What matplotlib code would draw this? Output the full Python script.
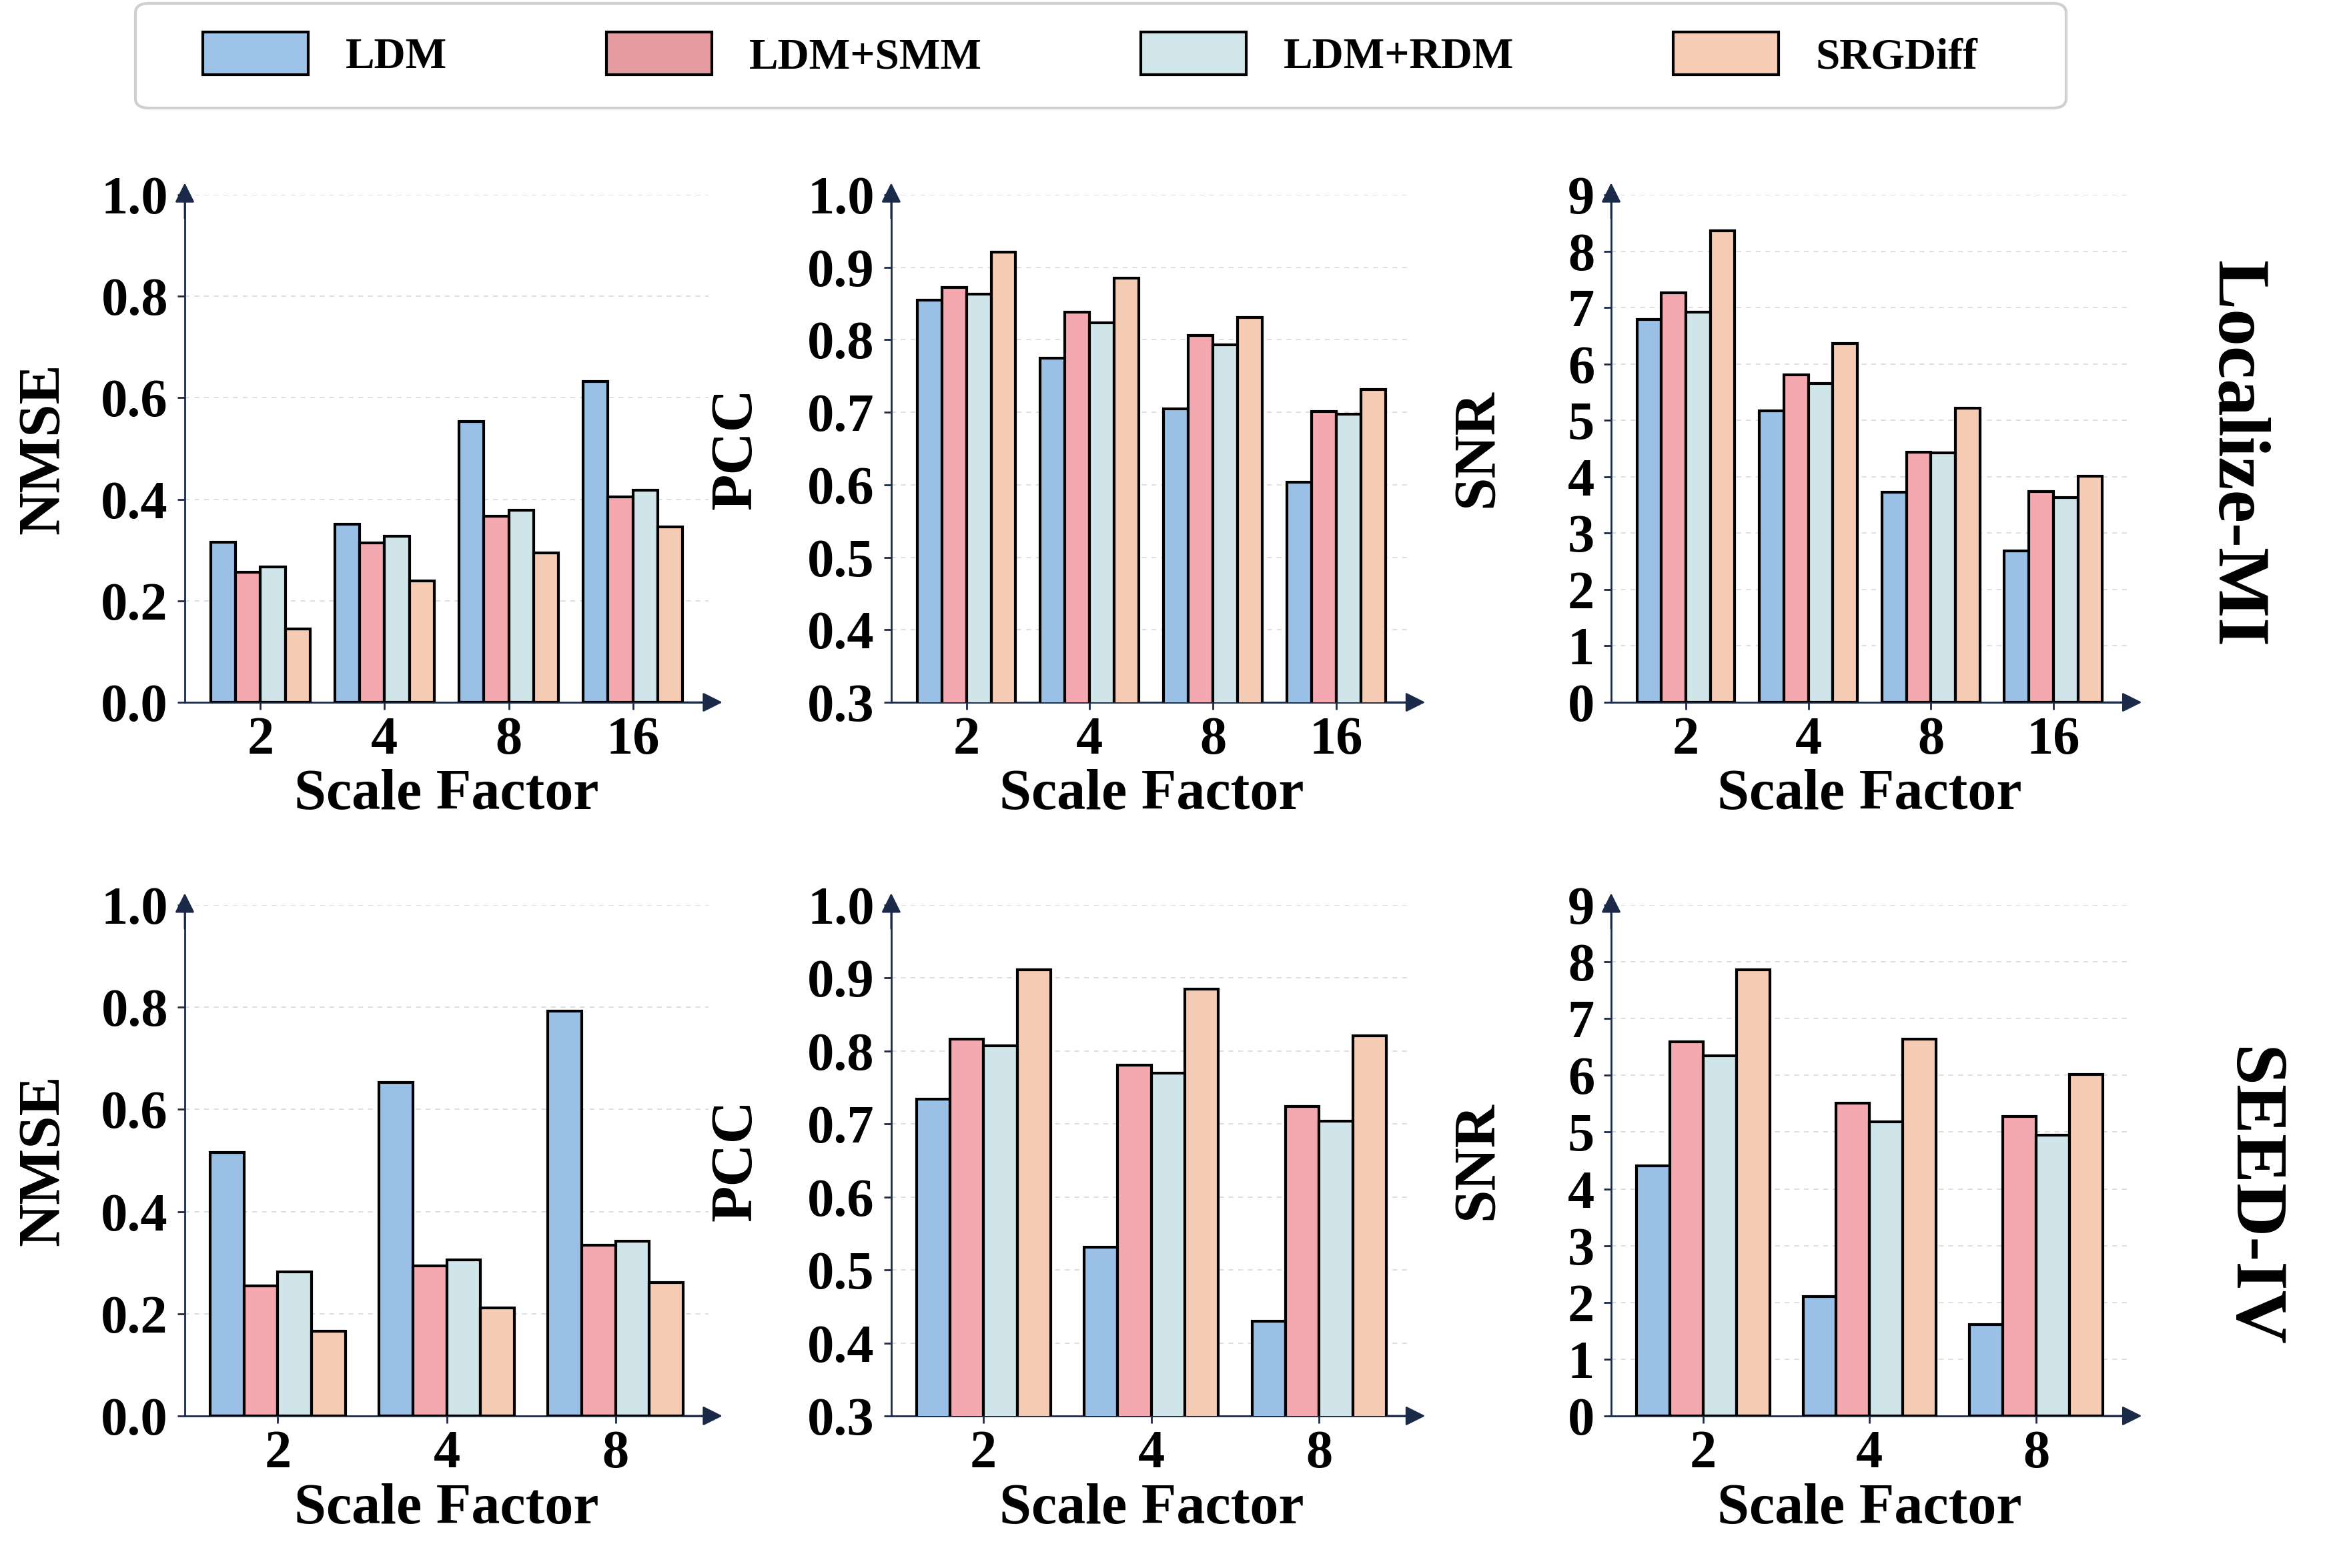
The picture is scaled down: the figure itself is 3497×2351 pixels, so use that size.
import numpy as np
import matplotlib
matplotlib.use('Agg')
import matplotlib.pyplot as plt
from matplotlib.patches import Patch, FancyBboxPatch

plt.rcParams['font.family'] = ['Liberation Serif', 'DejaVu Serif']
plt.rcParams['font.weight'] = 'bold'

methods = ['LDM', 'LDM+SMM', 'LDM+RDM', 'SRGDiff']
colors = ['#9bc0e6', '#f4a8b0', '#d0e5ea', '#f5cbb4']
legend_colors = ['#9dc3e8', '#e49ca0', '#d0e6ea', '#f6ccb5']

scales_loc = ['2', '4', '8', '16']
scales_seed = ['2', '4', '8']

# Localize-MI, one list per method (scale 2, 4, 8, 16)
loc_nmse = [[0.315, 0.351, 0.553, 0.632],
            [0.256, 0.314, 0.367, 0.405],
            [0.267, 0.327, 0.379, 0.418],
            [0.144, 0.239, 0.295, 0.345]]
loc_pcc = [[0.855, 0.775, 0.705, 0.604],
           [0.872, 0.838, 0.806, 0.701],
           [0.863, 0.823, 0.793, 0.697],
           [0.921, 0.885, 0.831, 0.731]]
loc_snr = [[6.79, 5.17, 3.72, 2.68],
           [7.26, 5.81, 4.43, 3.74],
           [6.92, 5.65, 4.42, 3.63],
           [8.36, 6.36, 5.22, 4.01]]

# SEED-IV (scale 2, 4, 8)
seed_nmse = [[0.515, 0.653, 0.792],
             [0.254, 0.294, 0.334],
             [0.282, 0.305, 0.342],
             [0.166, 0.211, 0.261]]
seed_pcc = [[0.734, 0.531, 0.430],
            [0.816, 0.781, 0.724],
            [0.807, 0.770, 0.704],
            [0.911, 0.885, 0.821]]
seed_snr = [[4.41, 2.10, 1.61],
            [6.59, 5.51, 5.27],
            [6.35, 5.18, 4.95],
            [7.86, 6.64, 6.02]]

nmse_ticks = [0.0, 0.2, 0.4, 0.6, 0.8, 1.0]
pcc_ticks = [0.3, 0.4, 0.5, 0.6, 0.7, 0.8, 0.9, 1.0]
snr_ticks = list(range(10))

W, H = 3497, 2351
fig = plt.figure(figsize=(W / 100, H / 100), dpi=100)

lefts = [0.0792, 0.382, 0.6906]
widths = [0.2245, 0.223, 0.2216]
bottoms = [0.5521, 0.097]
heights = [0.3237, 0.3258]
label_x = [-0.218, -0.246, -0.207]

arrow_col = '#1b2a49'


def draw_panel(ax, data, cats, ticks, fmt, ylabel, lx, margin):
    x = np.arange(len(cats))
    w = 0.2
    for i, vals in enumerate(data):
        ax.bar(x + (i - 1.5) * w, vals, w, color=colors[i], edgecolor='black',
               linewidth=3, label=methods[i], zorder=3)
    ax.set_xlim(-margin, len(cats) - 1 + margin)
    ax.set_ylim(ticks[0], ticks[-1])
    ax.set_yticks(ticks)
    ax.set_yticklabels([fmt.format(t) for t in ticks])
    ax.set_xticks(x)
    ax.set_xticklabels(cats)
    ax.grid(axis='y', linestyle=(0, (4, 4)), color='#dcdcdc', linewidth=1.3, zorder=0)
    ax.set_axisbelow(True)
    for s in ['top', 'right']:
        ax.spines[s].set_visible(False)
    for s in ['left', 'bottom']:
        ax.spines[s].set_linewidth(2)
        ax.spines[s].set_color(arrow_col)
    ax.tick_params(axis='both', labelsize=58, length=8, width=2, color=arrow_col, pad=10)
    ax.tick_params(axis='x', pad=7)
    ax.set_ylabel(ylabel, fontsize=64, fontweight='bold')
    ax.yaxis.set_label_coords(lx, 0.5)
    ax.set_xlabel('Scale Factor', fontsize=62, fontweight='bold')
    ax.xaxis.set_label_coords(0.5, -0.132)
    ap = dict(arrowstyle='-|>', color=arrow_col, lw=2, mutation_scale=45)
    ax.annotate('', xy=(1.03, 0), xytext=(0.95, 0), xycoords='axes fraction',
                arrowprops=ap, annotation_clip=False)
    ax.annotate('', xy=(0, 1.027), xytext=(0, 0.95), xycoords='axes fraction',
                arrowprops=ap, annotation_clip=False)


rows = [
    (scales_loc, [loc_nmse, loc_pcc, loc_snr], 0.61),
    (scales_seed, [seed_nmse, seed_pcc, seed_snr], 0.55),
]
tick_sets = [nmse_ticks, pcc_ticks, snr_ticks]
fmts = ['{:.1f}', '{:.1f}', '{:.0f}']
ylabels = ['NMSE', 'PCC', 'SNR']

for r, (cats, datas, margin) in enumerate(rows):
    for c in range(3):
        ax = fig.add_axes([lefts[c], bottoms[r], widths[c], heights[r]])
        draw_panel(ax, datas[c], cats, tick_sets[c], fmts[c], ylabels[c], label_x[c], margin)

fig.text(3352 / W, 1 - 680 / H, 'Localize-MI', rotation=-90, fontsize=80,
         fontweight='bold', ha='center', va='center')
fig.text(3374 / W, 1 - 1794 / H, 'SEED-IV', rotation=-90, fontsize=80,
         fontweight='bold', ha='center', va='center')

# legend frame drawn by hand so the padding matches
frame = FancyBboxPatch((203 / W, 1 - 162 / H), 2894 / W, 157 / H,
                       boxstyle='round,pad=0,rounding_size=0.006',
                       transform=fig.transFigure, facecolor='white',
                       edgecolor='#cfcfcf', linewidth=3)
fig.patches.append(frame)

handles = [Patch(facecolor=legend_colors[i], edgecolor='black', linewidth=3,
                 label=methods[i]) for i in range(4)]
fig.legend(handles=handles, loc='center left', bbox_to_anchor=(304 / W, 1 - 82 / H),
           ncol=4, fontsize=47, frameon=False,
           handlelength=2.42, handleheight=1.14, handletextpad=0.86,
           columnspacing=3.65, borderpad=0, borderaxespad=0)

fig.savefig('out.png', dpi=100)
